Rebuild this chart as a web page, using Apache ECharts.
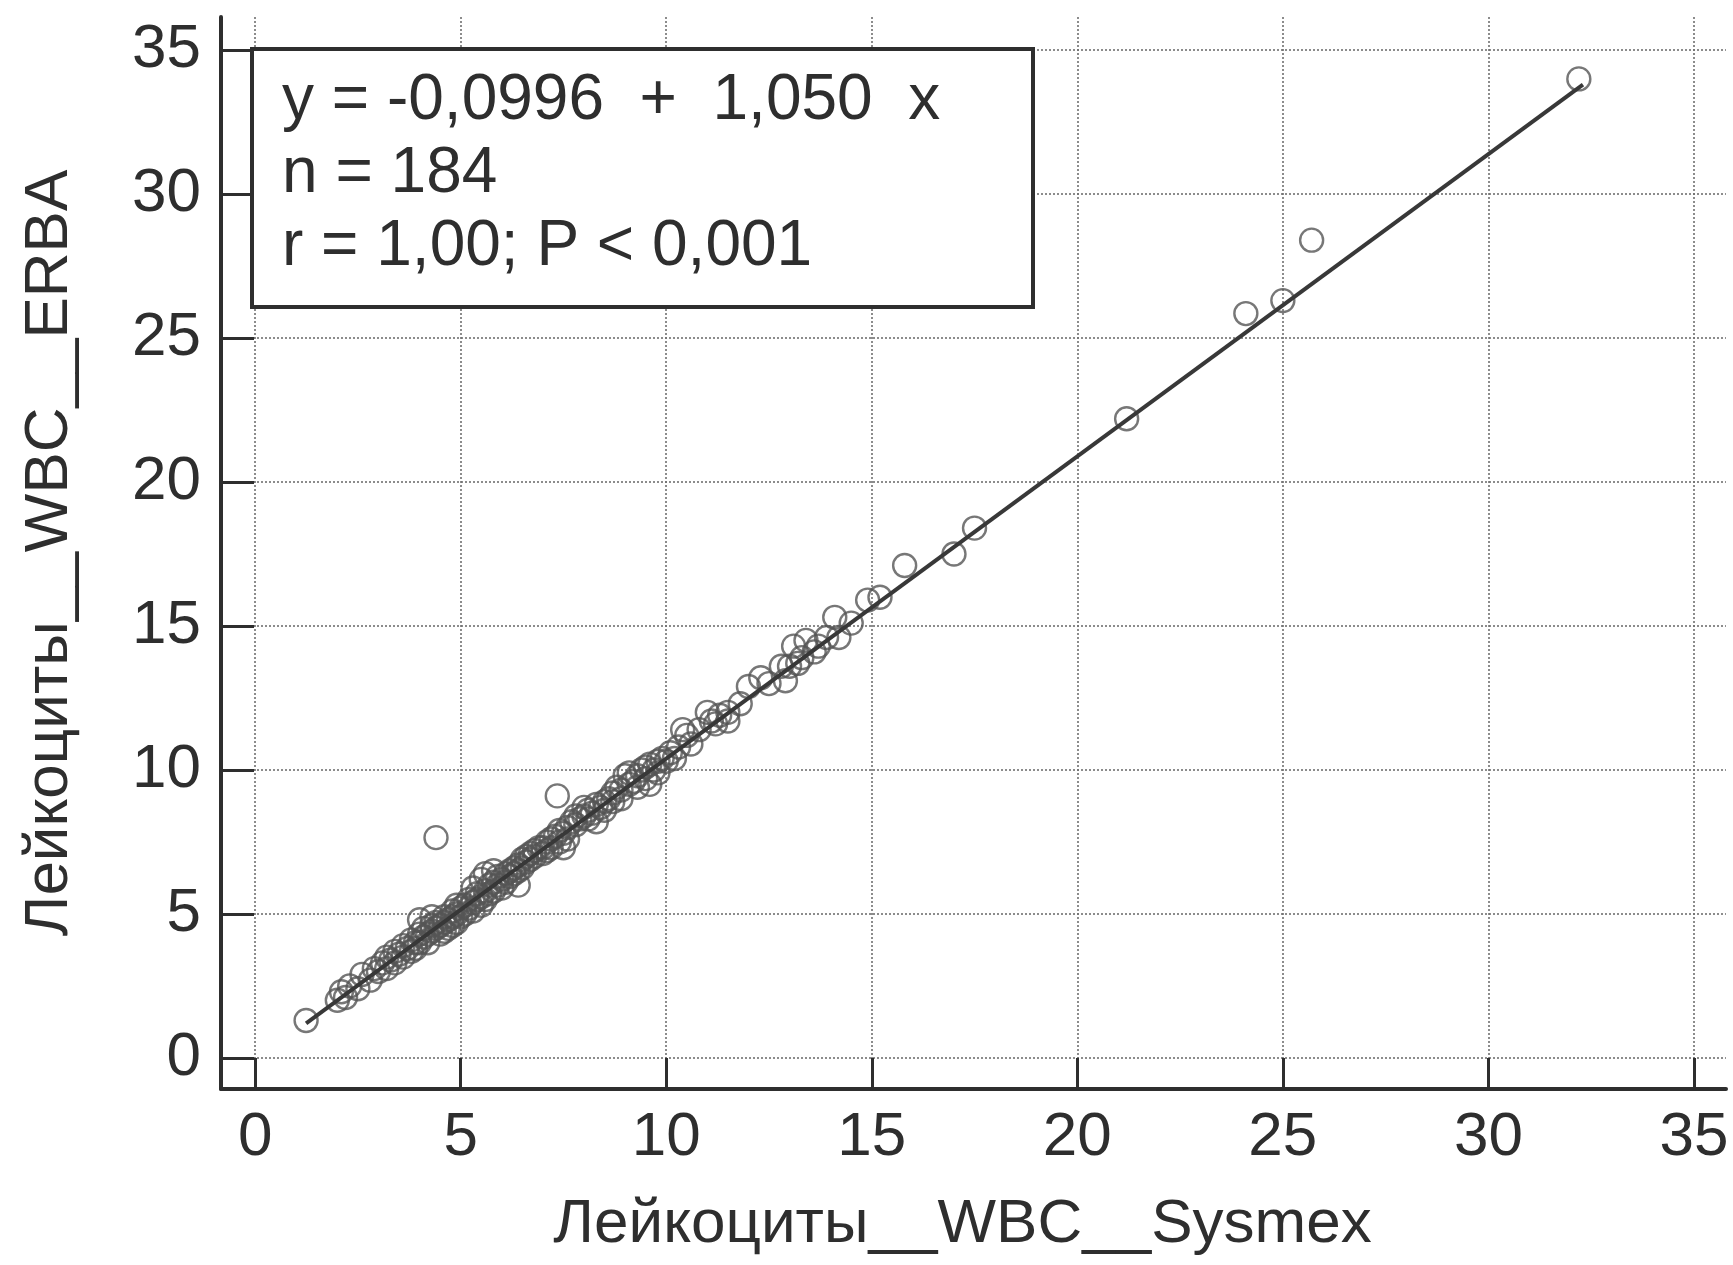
<!DOCTYPE html>
<html>
<head>
<meta charset="utf-8">
<script src="https://cdn.jsdelivr.net/npm/echarts@6/dist/echarts.min.js"></script>
<style>
html,body{margin:0;padding:0;background:#fff;}
#chart{width:1733px;height:1265px;}
</style>
</head>
<body>
<div id="chart"></div>
<script>
// Tick values on both axes
const tickValues = [0, 5, 10, 15, 20, 25, 30, 35];

// Лейкоциты WBC, Sysmex (x) vs ERBA (y)
const sysmex = [1.24,2.0,2.1,2.2,2.3,2.5,2.6,2.8,2.9,3.0,
3.1,3.2,3.2,3.3,3.4,3.4,3.5,3.6,3.6,3.7,3.8,3.8,3.9,3.9,4.0,
4.0,4.0,4.1,4.1,4.2,4.2,4.3,4.3,4.4,4.4,4.5,4.5,4.6,4.6,4.7,4.7,4.8,4.8,4.9,4.9,4.9,5.0,4.6,4.3,4.8,
5.0,5.1,5.1,5.2,5.2,5.3,5.3,5.4,5.4,5.5,5.5,5.5,5.6,5.6,5.7,5.7,5.8,5.8,5.9,5.9,6.0,6.0,5.6,5.8,5.3,
6.1,6.1,6.2,6.2,6.3,6.3,6.4,6.4,6.4,6.5,6.5,6.6,6.6,6.7,6.7,6.8,6.8,6.9,7.0,7.0,
7.1,7.1,7.2,7.2,7.3,7.35,7.4,7.4,7.5,7.5,7.6,7.6,7.7,7.8,7.8,7.9,8.0,8.0,
8.1,8.1,8.2,8.3,8.3,8.4,8.5,8.5,8.6,8.7,8.7,8.8,8.9,8.9,9.0,
9.1,9.1,9.2,9.3,9.3,9.4,9.5,9.5,9.6,9.6,9.7,9.8,9.8,9.9,10.0,
10.1,10.2,10.3,10.4,10.5,10.6,10.8,11.0,
11.1,11.2,11.3,11.5,11.5,11.8,
12.0,12.3,12.5,12.8,12.9,13.0,
13.1,13.2,13.4,13.6,13.7,13.9,13.3,
14.1,14.2,14.5,14.9,15.2,
15.8,17.0,17.5,21.2,24.1,25.0,25.7,32.2,4.4];

const erba = [1.30,2.0,2.3,2.1,2.5,2.4,2.9,2.7,3.1,3.0,
3.3,3.1,3.5,3.4,3.3,3.7,3.6,3.5,3.9,3.8,3.7,4.1,4.0,3.8,4.3,
4.0,4.8,4.2,4.5,4.3,4.0,4.6,4.4,4.5,4.7,4.6,4.3,4.9,4.7,4.8,4.5,5.1,4.9,5.0,5.3,4.7,5.2,4.4,4.9,4.6,
4.9,5.3,5.0,5.5,5.2,5.4,5.1,5.7,5.5,5.6,5.3,6.2,5.8,5.5,6.0,5.7,6.1,5.8,6.3,6.0,6.2,5.9,6.4,6.5,5.9,
6.4,6.1,6.5,6.3,6.6,6.4,6.7,6.5,6.0,6.9,6.6,6.8,7.0,7.1,6.9,7.2,7.0,7.3,7.3,7.1,
7.5,7.2,7.6,7.3,7.7,9.1,7.5,7.9,7.3,7.8,8.0,7.6,8.2,8.1,8.4,8.3,8.4,8.7,
8.6,8.3,8.5,8.2,8.8,8.7,8.9,8.6,9.0,9.2,8.9,9.4,9.3,9.0,9.8,
9.5,9.9,9.6,9.8,9.4,10.0,10.1,9.7,9.5,10.2,10.0,10.3,9.9,10.4,10.3,
10.6,10.4,10.8,11.4,11.2,10.9,11.4,12.0,
11.7,11.6,11.9,11.7,12.0,12.3,
12.9,13.2,13.0,13.6,13.1,13.6,
14.3,13.7,14.5,14.1,14.3,14.6,13.9,
15.3,14.6,15.1,15.9,16.0,
17.1,17.5,18.4,22.2,25.85,26.3,28.4,34.0,7.65];

// Regression line end points
const fitX = [1.24, 32.3];
const fitY = [1.20, 33.8];

// Annotation text
const statLines = ['y = -0,0996  +  1,050  x', 'n = 184', 'r = 1,00; P < 0,001'];

const xTitle = 'Лейкоциты__WBC__Sysmex';
const yTitle = 'Лейкоциты__WBC__ERBA';

const FONT = '"Liberation Sans", Arial, sans-serif';
const INK = '#2e2e2e';

const chart = echarts.init(document.getElementById('chart'), null, {renderer: 'canvas'});

const scatterData = sysmex.map((v, i) => [v, erba[i]]);
const fitData = fitX.map((v, i) => [v, fitY[i]]);

function axisCommon(tickLen, labelMargin) {
  return {
    type: 'value',
    axisLine: {show: true, onZero: false, lineStyle: {color: INK, width: 4}},
    axisTick: {show: true, inside: true, length: tickLen, customValues: tickValues,
               lineStyle: {color: INK, width: 3}},
    axisLabel: {show: true, customValues: tickValues, margin: labelMargin,
                color: INK, fontSize: 62, fontFamily: FONT, lineHeight: 62},
    splitLine: {show: true, lineStyle: {color: '#707070', width: 1.6, type: [2, 2]}},
    nameLocation: 'middle',
    nameTextStyle: {color: INK, fontSize: 62, fontFamily: FONT, lineHeight: 62}
  };
}

const option = {
  backgroundColor: '#ffffff',
  animation: false,
  grid: {left: 221, right: 7, top: 17, bottom: 176, containLabel: false, outerBoundsMode: 'none'},
  xAxis: Object.assign(axisCommon(31, 18), {
    min: -0.83, max: 35.78,
    name: xTitle, nameGap: 105,
    nameTextStyle: {color: INK, fontSize: 62, fontFamily: FONT, lineHeight: 62, padding: [0, 22, 0, 0]}
  }),
  yAxis: Object.assign(axisCommon(33, 20), {
    min: -1.08, max: 36.15,
    name: yTitle, nameGap: 140
  }),
  series: [
    {
      type: 'scatter',
      data: scatterData,
      symbol: 'circle',
      symbolSize: 23,
      itemStyle: {color: 'rgba(255,255,255,0)', borderColor: '#555', borderWidth: 2.4},
      z: 2
    },
    {
      type: 'line',
      data: fitData,
      showSymbol: false,
      symbol: 'none',
      lineStyle: {color: '#383838', width: 4},
      z: 3
    }
  ],
  graphic: [
    {
      type: 'rect',
      z: 100,
      shape: {x: 252, y: 49, width: 781, height: 258},
      style: {fill: '#fff', stroke: INK, lineWidth: 4}
    },
    {
      type: 'text',
      z: 101,
      x: 282,
      y: 65,
      style: {
        text: statLines.join('\n'),
        fill: INK,
        fontSize: 64,
        fontFamily: FONT,
        lineHeight: 73,
        verticalAlign: 'top',
        align: 'left'
      }
    }
  ]
};

chart.setOption(option);
</script>
</body>
</html>
